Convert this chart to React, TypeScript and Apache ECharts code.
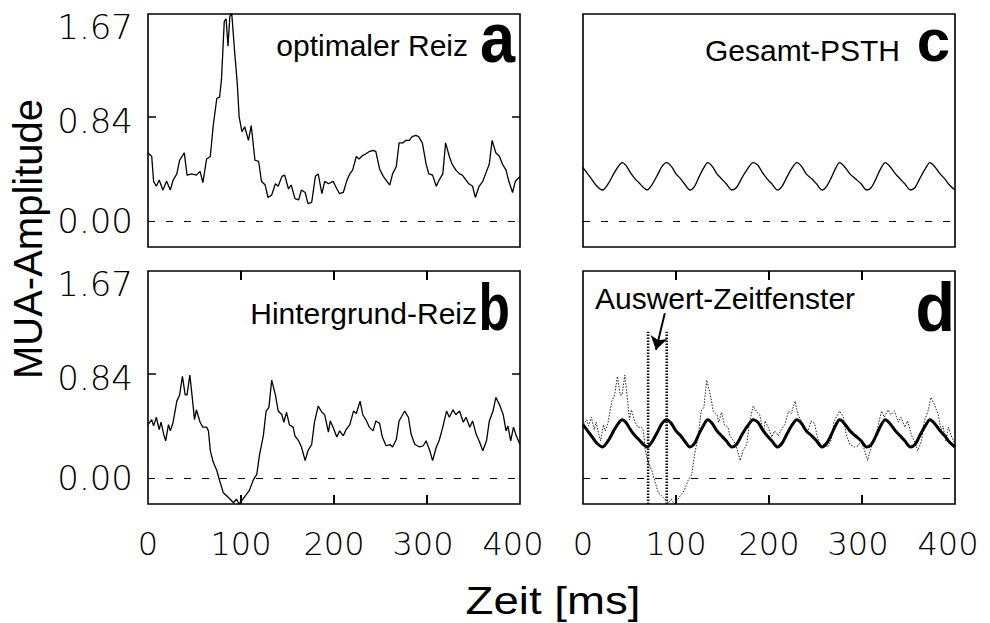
import React, { useEffect, useRef } from "react";
import * as echarts from "echarts";

// ---- data ----
// panel a: optimal stimulus
const timeOptimal = [0,4,6,9,12,16,20,24,27,31,34,39,42,47,52,56,59,63,67,70,74,77,79,82,84,86,88,90,93,96,98,101,104,108,111,115,119,122,126,129,133,137,140,144,147,151,154,158,162,165,169,172,176,180,183,187,190,194,199,203,206,210,214,217,220,224,227,231,234,238,242,245,249,253,256,260,263,267,270,274,277,281,284,288,291,295,299,302,306,310,313,317,320,324,327,331,335,338,342,345,349,352,356,360,363,367,370,374,378,381,385,388,392,395,400];
const ampOptimal = [0.55,0.52,0.32,0.28,0.33,0.25,0.32,0.25,0.33,0.38,0.49,0.55,0.37,0.38,0.37,0.40,0.31,0.50,0.52,0.76,0.99,1.00,1.14,1.61,1.63,1.41,1.65,1.68,1.38,1.11,0.84,0.72,0.76,0.65,0.77,0.49,0.48,0.32,0.29,0.19,0.21,0.30,0.28,0.36,0.37,0.26,0.29,0.18,0.17,0.25,0.23,0.14,0.15,0.36,0.38,0.22,0.32,0.30,0.32,0.26,0.22,0.23,0.33,0.38,0.41,0.52,0.50,0.53,0.54,0.56,0.57,0.56,0.42,0.36,0.33,0.29,0.38,0.44,0.63,0.63,0.65,0.65,0.68,0.69,0.68,0.63,0.46,0.38,0.37,0.28,0.33,0.38,0.63,0.52,0.46,0.41,0.38,0.37,0.33,0.30,0.28,0.19,0.28,0.32,0.38,0.46,0.65,0.55,0.52,0.46,0.41,0.32,0.23,0.32,0.36];

// panel b: background stimulus (also dotted trace in d)
const timeBackground = [0,4,6,9,12,14,17,19,22,24,27,31,34,37,40,42,45,48,50,52,56,59,63,65,67,70,74,77,81,84,88,92,95,98,102,105,109,113,117,120,124,127,130,133,137,140,144,146,149,152,156,158,162,165,169,172,176,179,183,187,190,194,196,199,203,206,210,213,217,221,224,228,231,235,238,242,245,249,252,256,260,263,267,270,276,280,283,287,292,296,299,303,306,310,313,317,321,324,328,331,335,339,342,346,349,353,356,360,364,367,371,374,378,382,385,387,390,393,396,400];
const ampBackground = [0.43,0.47,0.42,0.49,0.39,0.45,0.35,0.30,0.43,0.38,0.45,0.62,0.67,0.82,0.67,0.67,0.83,0.62,0.47,0.55,0.45,0.41,0.41,0.38,0.22,0.13,0.06,-0.02,-0.12,-0.14,-0.17,-0.20,-0.17,-0.21,-0.17,-0.14,-0.10,-0.02,0.03,0.19,0.34,0.54,0.57,0.79,0.67,0.54,0.51,0.45,0.53,0.43,0.41,0.34,0.30,0.25,0.14,0.22,0.27,0.45,0.58,0.53,0.51,0.37,0.46,0.41,0.33,0.38,0.34,0.39,0.43,0.54,0.52,0.62,0.51,0.46,0.41,0.38,0.46,0.44,0.33,0.26,0.27,0.25,0.31,0.46,0.54,0.49,0.35,0.27,0.25,0.26,0.30,0.22,0.14,0.25,0.30,0.41,0.54,0.49,0.55,0.51,0.54,0.45,0.49,0.41,0.46,0.35,0.30,0.22,0.30,0.46,0.54,0.65,0.59,0.51,0.38,0.42,0.30,0.41,0.34,0.27];

// panel c: overall PSTH (also thick trace in d)
const timePsth = [0,5,10,15,21,27,33,38,42,46,51,56,60,65,69,74,80,85,90,95,100,105,110,115,120,125,130,134,139,144,149,154,160,165,171,177,183,188,193,198,203,209,214,219,225,230,235,240,246,251,257,262,267,272,276,281,287,293,299,305,310,315,320,325,330,336,341,346,352,357,362,368,373,378,384,389,394,400];
const ampPsth = [0.43,0.38,0.33,0.28,0.25,0.30,0.38,0.44,0.47,0.45,0.39,0.34,0.31,0.27,0.25,0.29,0.37,0.44,0.47,0.44,0.38,0.34,0.29,0.25,0.28,0.36,0.43,0.47,0.44,0.38,0.34,0.30,0.25,0.27,0.35,0.42,0.47,0.45,0.39,0.34,0.30,0.25,0.28,0.35,0.43,0.47,0.44,0.38,0.34,0.30,0.25,0.28,0.35,0.43,0.47,0.44,0.38,0.34,0.30,0.25,0.27,0.34,0.42,0.47,0.44,0.38,0.34,0.30,0.25,0.27,0.34,0.42,0.47,0.44,0.38,0.34,0.29,0.25];

const xTickValues = [0, 100, 200, 300, 400];
const xInnerTicks = [100, 200, 300];
const yTickValues = [0, 0.84, 1.67];
const yTickLabels = ["0.00", "0.84", "1.67"];
const windowEdges = [70, 90]; // ms
const windowTop = 1.18;
const arrowFrom = [88, 1.33];
const arrowTo = [78.5, 1.035];

const panelTitles = ["optimaler Reiz", "Gesamt-PSTH", "Hintergrund-Reiz", "Auswert-Zeitfenster"];
const panelLetters = ["a", "c", "b", "d"];

// ---- helpers ----
const pairs = (t: number[], v: number[]) =>
  t.slice(0, Math.min(t.length, v.length)).map((x, i) => [x, v[i]]);

const Y_MIN = -0.21;
const Y_MAX = 1.67;
const GRID_H = 233;
const TICK_PX = 9;
const TICK_DATA = (TICK_PX * (Y_MAX - Y_MIN)) / GRID_H;
const LABEL_FONT = "DejaVu Sans";
const TEXT_FONT = "Liberation Sans, Arial, sans-serif";

const tickStyle = { color: "#000", width: 1.5 };

function xAxis(gridIndex: number, labels: boolean) {
  const base = { fontFamily: LABEL_FONT, fontWeight: 200, fontSize: 32, color: "#000" };
  return {
    type: "value",
    gridIndex,
    position: "bottom",
    min: 0,
    max: 400,
    interval: 100,
    axisLine: { show: false, onZero: false },
    splitLine: { show: false },
    axisTick: { show: false },
    axisLabel: {
      show: labels,
      margin: 24,
      ...base,
      customValues: xTickValues,
      formatter: (v: number) =>
        v === 300 ? `{s3|${v}}` : v === 400 ? `{s4|${v}}` : `{n|${v}}`,
      rich: {
        n: { ...base },
        s3: { ...base, padding: [0, 8, 0, 0] },
        s4: { ...base, padding: [0, 14, 0, 0] },
      },
    },
  };
}

function yAxis(gridIndex: number, position: string, ticks: boolean, labels: boolean) {
  const base = { fontFamily: LABEL_FONT, fontWeight: 200, fontSize: 34, color: "#000" };
  return {
    type: "value",
    gridIndex,
    position,
    min: Y_MIN,
    max: Y_MAX,
    axisLine: { show: false, onZero: false },
    splitLine: { show: false },
    axisTick: {
      show: ticks,
      inside: true,
      length: 8,
      customValues: [yTickValues[1]],
      lineStyle: tickStyle,
    },
    axisLabel: {
      show: labels,
      margin: 15,
      ...base,
      customValues: yTickValues,
      formatter: (v: number) => {
        const i = yTickValues.indexOf(v);
        const s = i >= 0 ? yTickLabels[i] : String(v);
        return i === 2 ? `{t|${s}}` : i === 1 ? `{m|${s}}` : `{z|${s}}`;
      },
      rich: {
        z: { ...base },
        m: { ...base, padding: [8, 0, 0, 0] },
        t: { ...base, padding: [26, 0, 0, 0] },
      },
    },
  };
}

const zeroLine = {
  silent: true,
  symbol: "none",
  label: { show: false },
  lineStyle: { type: [7, 11], color: "#000", width: 1.1 },
  data: [{ yAxis: 0 }],
};

// x ticks on the top and bottom frame (inside), each drawn as a short line series
function tickSeries(xAxisIndex: number, yAxisIndex: number) {
  return xInnerTicks
    .flatMap((v) => [
      [
        [v, Y_MIN],
        [v, Y_MIN + TICK_DATA],
      ],
      [
        [v, Y_MAX],
        [v, Y_MAX - TICK_DATA],
      ],
    ])
    .map((seg) => ({
      type: "line",
      xAxisIndex,
      yAxisIndex,
      data: seg,
      symbol: "none",
      clip: false,
      silent: true,
      z: 5,
      lineStyle: { color: "#000", width: 2, type: "solid" },
    }));
}

function text(
  str: string,
  x: number,
  y: number,
  size: number,
  align: string,
  bold = false,
  scaleX = 1
) {
  return {
    type: "text",
    x,
    y,
    scaleX,
    silent: true,
    style: {
      text: str,
      fontSize: size,
      fontFamily: TEXT_FONT,
      fontWeight: bold ? "bold" : "normal",
      fill: "#000",
      align,
      textAlign: align,
      verticalAlign: "middle",
      textVerticalAlign: "middle",
    },
  };
}

export default function App() {
  const ref = useRef<HTMLDivElement>(null);

  useEffect(() => {
    if (!ref.current) return;
    const chart = echarts.init(ref.current, undefined, { renderer: "svg" });

    const gridBase = {
      show: true,
      borderColor: "#000",
      borderWidth: 1.6,
      backgroundColor: "transparent",
      containLabel: false,
      outerBoundsMode: "none",
    };

    const option: any = {
      animation: false,
      backgroundColor: "#fff",
      grid: [
        { ...gridBase, left: 148, top: 14, width: 372, height: GRID_H }, // a
        { ...gridBase, left: 583, top: 14, width: 372, height: GRID_H }, // c
        { ...gridBase, left: 148, top: 271, width: 372, height: GRID_H }, // b
        { ...gridBase, left: 583, top: 271, width: 372, height: GRID_H }, // d
      ],
      xAxis: [xAxis(0, false), xAxis(1, false), xAxis(2, true), xAxis(3, true)],
      yAxis: [
        yAxis(0, "left", true, true),
        yAxis(0, "right", true, false),
        yAxis(1, "left", false, false),
        yAxis(2, "left", true, true),
        yAxis(2, "right", true, false),
        yAxis(3, "left", false, false),
      ],
      series: [
        {
          type: "line",
          xAxisIndex: 0,
          yAxisIndex: 0,
          data: pairs(timeOptimal, ampOptimal),
          symbol: "none",
          lineStyle: { color: "#000", width: 1.3 },
          markLine: zeroLine,
        },
        {
          type: "line",
          xAxisIndex: 1,
          yAxisIndex: 2,
          data: pairs(timePsth, ampPsth),
          symbol: "none",
          smooth: 0.3,
          lineStyle: { color: "#000", width: 1.3 },
          markLine: zeroLine,
        },
        {
          type: "line",
          xAxisIndex: 2,
          yAxisIndex: 3,
          data: pairs(timeBackground, ampBackground),
          symbol: "none",
          lineStyle: { color: "#000", width: 1.3 },
          markLine: zeroLine,
        },
        {
          type: "line",
          xAxisIndex: 3,
          yAxisIndex: 5,
          data: pairs(timeBackground, ampBackground),
          symbol: "none",
          lineStyle: { color: "#222", width: 1, type: [1.5, 1.5] },
        },
        ...windowEdges.map((t, i) => ({
          type: "line",
          xAxisIndex: 3,
          yAxisIndex: 5,
          data: [
            [t, Y_MIN],
            [t, windowTop],
          ],
          symbol: "none",
          lineStyle: { color: "#111", width: 2.6, type: [1.5, 1.5] },
          markLine:
            i === 1
              ? {
                  silent: true,
                  symbol: ["none", "arrow"],
                  symbolSize: 13,
                  label: { show: false },
                  lineStyle: { type: "solid", color: "#000", width: 2 },
                  data: [[{ coord: arrowFrom }, { coord: arrowTo }]],
                }
              : undefined,
        })),
        {
          type: "line",
          xAxisIndex: 3,
          yAxisIndex: 5,
          data: pairs(timePsth, ampPsth),
          symbol: "none",
          smooth: 0.3,
          lineStyle: { color: "#000", width: 3 },
          markLine: zeroLine,
        },
        ...tickSeries(2, 3),
        ...tickSeries(3, 5),
      ],
      graphic: [
        text(panelTitles[0], 468, 45, 30, "right"),
        text(panelLetters[0], 515, 38, 70, "right", true, 0.9),
        text(panelTitles[1], 900, 50, 30, "right"),
        text(panelLetters[1], 950, 40, 60, "right", true),
        text(panelTitles[2], 477, 313, 30, "right"),
        text(panelLetters[2], 510, 307, 66, "right", true, 0.78),
        text(panelTitles[3], 595, 298, 30, "left"),
        text(panelLetters[3], 955, 307, 68, "right", true, 0.95),
        {
          type: "text",
          x: 28,
          y: 239,
          rotation: Math.PI / 2,
          silent: true,
          style: {
            text: "MUA-Amplitude",
            fontSize: 40,
            fontFamily: TEXT_FONT,
            fill: "#000",
            align: "center",
            textAlign: "center",
            verticalAlign: "middle",
            textVerticalAlign: "middle",
          },
        },
        text("Zeit [ms]", 553, 601, 38, "center", false, 1.2),
      ],
    };

    chart.setOption(option);
    return () => chart.dispose();
  }, []);

  return (
    <div
      ref={ref}
      style={{ position: "absolute", left: 0, top: 0, width: 990, height: 623 }}
    />
  );
}
